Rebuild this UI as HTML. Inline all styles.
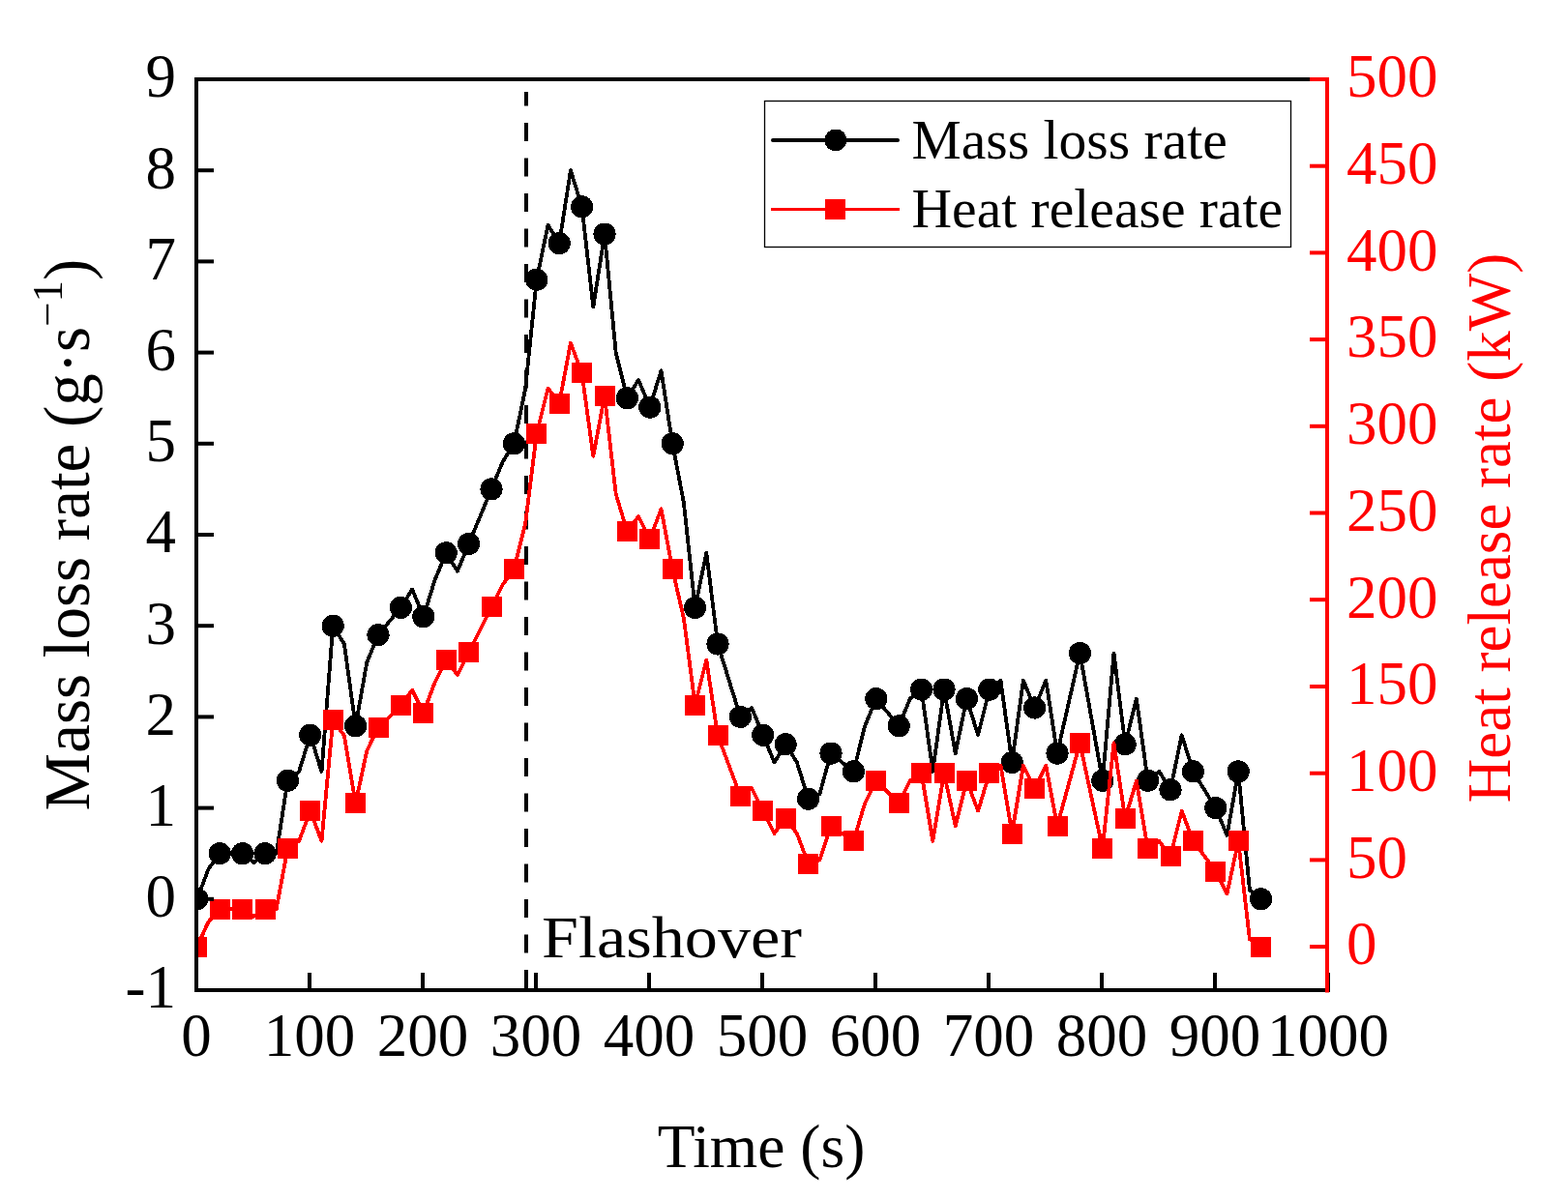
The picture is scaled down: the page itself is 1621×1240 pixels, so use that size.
<!DOCTYPE html><html><head><meta charset="utf-8"><title>Mass loss rate and heat release rate</title>
<style>html,body{margin:0;padding:0;background:#fff;}svg{display:block;}text{font-family:"Liberation Serif","Times New Roman",serif;}</style></head><body>
<svg width="1621" height="1240" viewBox="0 0 1621 1240">
<rect width="1621" height="1240" fill="#fff"/>
<defs><clipPath id="pc"><rect x="205" y="84" width="1165" height="938"/></clipPath></defs>
<line x1="544" y1="95" x2="544" y2="1022" stroke="#000" stroke-width="4" stroke-dasharray="19 17.5" stroke-dashoffset="4.4"/>
<g clip-path="url(#pc)" shape-rendering="crispEdges">
<polyline fill="none" stroke="#000" stroke-width="3.8" stroke-linejoin="round" points="203.8,929.8 215.5,898.7 227.2,882.7 238.9,882.7 250.6,882.7 262.3,892.1 274,882.7 285.7,882.7 297.4,807.3 309.1,797.9 320.8,760.2 332.5,797.9 344.2,647.2 355.9,666 367.6,750.8 379.3,684.9 391,656.6 402.7,642.5 414.4,628.4 426.1,609.5 437.8,637.8 449.5,600.1 461.2,571.8 472.9,590.7 484.6,562.4 496.3,534.2 508,505.9 519.7,477.6 531.4,458.8 543.1,402.3 554.8,289.2 566.5,232.7 578.2,251.6 589.9,176.2 601.6,213.9 613.3,317.5 625,242.1 636.7,364.6 648.4,411.7 660.1,392.9 671.8,421.1 683.5,383.4 695.2,458.8 706.9,520 718.6,628.4 730.3,571.8 742,666 753.7,703.7 765.4,741.4 777.1,732 788.8,760.2 800.5,788.5 812.2,769.7 823.9,788.5 835.6,826.2 847.3,821.5 859,779.1 870.7,788.5 882.4,797.9 894.1,750.8 905.8,722.6 917.5,736.7 929.2,750.8 940.9,722.6 952.6,713.1 964.3,797.9 976,713.1 987.7,779.1 999.4,722.6 1011.1,760.2 1022.8,713.1 1034.5,703.7 1046.2,788.5 1057.9,703.7 1069.6,732 1081.3,703.7 1093,779.1 1104.7,727.3 1116.4,675.5 1128.1,741.4 1139.8,807.3 1151.5,675.5 1163.2,769.7 1174.9,722.6 1186.6,807.3 1198.3,797.9 1210,816.8 1221.7,760.2 1233.4,797.9 1245.1,816.8 1256.8,835.6 1268.5,863.9 1280.2,797.9 1291.9,920.4 1303.6,929.8"/>
<circle cx="203.8" cy="929.8" r="11.6" fill="#000"/>
<circle cx="227.2" cy="882.7" r="11.6" fill="#000"/>
<circle cx="250.6" cy="882.7" r="11.6" fill="#000"/>
<circle cx="274" cy="882.7" r="11.6" fill="#000"/>
<circle cx="297.4" cy="807.3" r="11.6" fill="#000"/>
<circle cx="320.8" cy="760.2" r="11.6" fill="#000"/>
<circle cx="344.2" cy="647.2" r="11.6" fill="#000"/>
<circle cx="367.6" cy="750.8" r="11.6" fill="#000"/>
<circle cx="391" cy="656.6" r="11.6" fill="#000"/>
<circle cx="414.4" cy="628.4" r="11.6" fill="#000"/>
<circle cx="437.8" cy="637.8" r="11.6" fill="#000"/>
<circle cx="461.2" cy="571.8" r="11.6" fill="#000"/>
<circle cx="484.6" cy="562.4" r="11.6" fill="#000"/>
<circle cx="508" cy="505.9" r="11.6" fill="#000"/>
<circle cx="531.4" cy="458.8" r="11.6" fill="#000"/>
<circle cx="554.8" cy="289.2" r="11.6" fill="#000"/>
<circle cx="578.2" cy="251.6" r="11.6" fill="#000"/>
<circle cx="601.6" cy="213.9" r="11.6" fill="#000"/>
<circle cx="625" cy="242.1" r="11.6" fill="#000"/>
<circle cx="648.4" cy="411.7" r="11.6" fill="#000"/>
<circle cx="671.8" cy="421.1" r="11.6" fill="#000"/>
<circle cx="695.2" cy="458.8" r="11.6" fill="#000"/>
<circle cx="718.6" cy="628.4" r="11.6" fill="#000"/>
<circle cx="742" cy="666" r="11.6" fill="#000"/>
<circle cx="765.4" cy="741.4" r="11.6" fill="#000"/>
<circle cx="788.8" cy="760.2" r="11.6" fill="#000"/>
<circle cx="812.2" cy="769.7" r="11.6" fill="#000"/>
<circle cx="835.6" cy="826.2" r="11.6" fill="#000"/>
<circle cx="859" cy="779.1" r="11.6" fill="#000"/>
<circle cx="882.4" cy="797.9" r="11.6" fill="#000"/>
<circle cx="905.8" cy="722.6" r="11.6" fill="#000"/>
<circle cx="929.2" cy="750.8" r="11.6" fill="#000"/>
<circle cx="952.6" cy="713.1" r="11.6" fill="#000"/>
<circle cx="976" cy="713.1" r="11.6" fill="#000"/>
<circle cx="999.4" cy="722.6" r="11.6" fill="#000"/>
<circle cx="1022.8" cy="713.1" r="11.6" fill="#000"/>
<circle cx="1046.2" cy="788.5" r="11.6" fill="#000"/>
<circle cx="1069.6" cy="732" r="11.6" fill="#000"/>
<circle cx="1093" cy="779.1" r="11.6" fill="#000"/>
<circle cx="1116.4" cy="675.5" r="11.6" fill="#000"/>
<circle cx="1139.8" cy="807.3" r="11.6" fill="#000"/>
<circle cx="1163.2" cy="769.7" r="11.6" fill="#000"/>
<circle cx="1186.6" cy="807.3" r="11.6" fill="#000"/>
<circle cx="1210" cy="816.8" r="11.6" fill="#000"/>
<circle cx="1233.4" cy="797.9" r="11.6" fill="#000"/>
<circle cx="1256.8" cy="835.6" r="11.6" fill="#000"/>
<circle cx="1280.2" cy="797.9" r="11.6" fill="#000"/>
<circle cx="1303.6" cy="929.8" r="11.6" fill="#000"/>
<polyline fill="none" stroke="#f00" stroke-width="3.8" stroke-linejoin="round" points="203.8,979.1 215.5,953.3 227.2,940.1 238.9,940.1 250.6,940.1 262.3,947.9 274,940.1 285.7,940.1 297.4,877.6 309.1,869.8 320.8,838.6 332.5,869.8 344.2,744.9 355.9,760.6 367.6,830.8 379.3,776.2 391,752.7 402.7,741 414.4,729.3 426.1,713.7 437.8,737.1 449.5,705.9 461.2,682.5 472.9,698.1 484.6,674.7 496.3,651.3 508,627.9 519.7,604.5 531.4,588.8 543.1,542 554.8,448.3 566.5,401.5 578.2,417.1 589.9,354.7 601.6,385.9 613.3,471.8 625,409.3 636.7,510.8 648.4,549.8 660.1,534.2 671.8,557.6 683.5,526.4 695.2,588.8 706.9,639.6 718.6,729.3 730.3,682.5 742,760.6 753.7,791.8 765.4,823 777.1,815.2 788.8,838.6 800.5,862 812.2,846.4 823.9,862 835.6,893.2 847.3,889.3 859,854.2 870.7,862 882.4,869.8 894.1,830.8 905.8,807.4 917.5,819.1 929.2,830.8 940.9,807.4 952.6,799.6 964.3,869.8 976,799.6 987.7,854.2 999.4,807.4 1011.1,838.6 1022.8,799.6 1034.5,791.8 1046.2,862 1057.9,791.8 1069.6,815.2 1081.3,791.8 1093,854.2 1104.7,811.3 1116.4,768.4 1128.1,823 1139.8,877.6 1151.5,768.4 1163.2,846.4 1174.9,807.4 1186.6,877.6 1198.3,869.8 1210,885.4 1221.7,838.6 1233.4,869.8 1245.1,885.4 1256.8,901 1268.5,924.5 1280.2,869.8 1291.9,971.3 1303.6,979.1"/>
<rect x="193.3" y="968.6" width="21" height="21" fill="#f00"/>
<rect x="216.7" y="929.6" width="21" height="21" fill="#f00"/>
<rect x="240.1" y="929.6" width="21" height="21" fill="#f00"/>
<rect x="263.5" y="929.6" width="21" height="21" fill="#f00"/>
<rect x="286.9" y="867.1" width="21" height="21" fill="#f00"/>
<rect x="310.3" y="828.1" width="21" height="21" fill="#f00"/>
<rect x="333.7" y="734.4" width="21" height="21" fill="#f00"/>
<rect x="357.1" y="820.3" width="21" height="21" fill="#f00"/>
<rect x="380.5" y="742.2" width="21" height="21" fill="#f00"/>
<rect x="403.9" y="718.8" width="21" height="21" fill="#f00"/>
<rect x="427.3" y="726.6" width="21" height="21" fill="#f00"/>
<rect x="450.7" y="672" width="21" height="21" fill="#f00"/>
<rect x="474.1" y="664.2" width="21" height="21" fill="#f00"/>
<rect x="497.5" y="617.4" width="21" height="21" fill="#f00"/>
<rect x="520.9" y="578.3" width="21" height="21" fill="#f00"/>
<rect x="544.3" y="437.8" width="21" height="21" fill="#f00"/>
<rect x="567.7" y="406.6" width="21" height="21" fill="#f00"/>
<rect x="591.1" y="375.4" width="21" height="21" fill="#f00"/>
<rect x="614.5" y="398.8" width="21" height="21" fill="#f00"/>
<rect x="637.9" y="539.3" width="21" height="21" fill="#f00"/>
<rect x="661.3" y="547.1" width="21" height="21" fill="#f00"/>
<rect x="684.7" y="578.3" width="21" height="21" fill="#f00"/>
<rect x="708.1" y="718.8" width="21" height="21" fill="#f00"/>
<rect x="731.5" y="750.1" width="21" height="21" fill="#f00"/>
<rect x="754.9" y="812.5" width="21" height="21" fill="#f00"/>
<rect x="778.3" y="828.1" width="21" height="21" fill="#f00"/>
<rect x="801.7" y="835.9" width="21" height="21" fill="#f00"/>
<rect x="825.1" y="882.7" width="21" height="21" fill="#f00"/>
<rect x="848.5" y="843.7" width="21" height="21" fill="#f00"/>
<rect x="871.9" y="859.3" width="21" height="21" fill="#f00"/>
<rect x="895.3" y="796.9" width="21" height="21" fill="#f00"/>
<rect x="918.7" y="820.3" width="21" height="21" fill="#f00"/>
<rect x="942.1" y="789.1" width="21" height="21" fill="#f00"/>
<rect x="965.5" y="789.1" width="21" height="21" fill="#f00"/>
<rect x="988.9" y="796.9" width="21" height="21" fill="#f00"/>
<rect x="1012.3" y="789.1" width="21" height="21" fill="#f00"/>
<rect x="1035.7" y="851.5" width="21" height="21" fill="#f00"/>
<rect x="1059.1" y="804.7" width="21" height="21" fill="#f00"/>
<rect x="1082.5" y="843.7" width="21" height="21" fill="#f00"/>
<rect x="1105.9" y="757.9" width="21" height="21" fill="#f00"/>
<rect x="1129.3" y="867.1" width="21" height="21" fill="#f00"/>
<rect x="1152.7" y="835.9" width="21" height="21" fill="#f00"/>
<rect x="1176.1" y="867.1" width="21" height="21" fill="#f00"/>
<rect x="1199.5" y="874.9" width="21" height="21" fill="#f00"/>
<rect x="1222.9" y="859.3" width="21" height="21" fill="#f00"/>
<rect x="1246.3" y="890.5" width="21" height="21" fill="#f00"/>
<rect x="1269.7" y="859.3" width="21" height="21" fill="#f00"/>
<rect x="1293.1" y="968.6" width="21" height="21" fill="#f00"/>
</g>
<g stroke="#000" stroke-width="4" fill="none">
<line x1="201" y1="82" x2="1372" y2="82"/>
<line x1="201" y1="1024" x2="1375" y2="1024"/>
<line x1="203" y1="80" x2="203" y2="1026"/>
<line x1="203" y1="1024" x2="221" y2="1024"/>
<line x1="203" y1="929.8" x2="221" y2="929.8"/>
<line x1="203" y1="835.6" x2="221" y2="835.6"/>
<line x1="203" y1="741.4" x2="221" y2="741.4"/>
<line x1="203" y1="647.2" x2="221" y2="647.2"/>
<line x1="203" y1="553" x2="221" y2="553"/>
<line x1="203" y1="458.8" x2="221" y2="458.8"/>
<line x1="203" y1="364.6" x2="221" y2="364.6"/>
<line x1="203" y1="270.4" x2="221" y2="270.4"/>
<line x1="203" y1="176.2" x2="221" y2="176.2"/>
<line x1="203" y1="82" x2="221" y2="82"/>
<line x1="203" y1="1006" x2="203" y2="1024"/>
<line x1="320" y1="1006" x2="320" y2="1024"/>
<line x1="437" y1="1006" x2="437" y2="1024"/>
<line x1="554" y1="1006" x2="554" y2="1024"/>
<line x1="671" y1="1006" x2="671" y2="1024"/>
<line x1="788" y1="1006" x2="788" y2="1024"/>
<line x1="905" y1="1006" x2="905" y2="1024"/>
<line x1="1022" y1="1006" x2="1022" y2="1024"/>
<line x1="1139" y1="1006" x2="1139" y2="1024"/>
<line x1="1256" y1="1006" x2="1256" y2="1024"/>
<line x1="1373" y1="1006" x2="1373" y2="1024"/>
</g>
<g stroke="#f00" stroke-width="4" fill="none">
<line x1="1372" y1="80" x2="1372" y2="1026.5"/>
<line x1="1354" y1="979.1" x2="1372" y2="979.1"/>
<line x1="1354" y1="889.4" x2="1372" y2="889.4"/>
<line x1="1354" y1="799.7" x2="1372" y2="799.7"/>
<line x1="1354" y1="710" x2="1372" y2="710"/>
<line x1="1354" y1="620.2" x2="1372" y2="620.2"/>
<line x1="1354" y1="530.5" x2="1372" y2="530.5"/>
<line x1="1354" y1="440.8" x2="1372" y2="440.8"/>
<line x1="1354" y1="351.1" x2="1372" y2="351.1"/>
<line x1="1354" y1="261.4" x2="1372" y2="261.4"/>
<line x1="1354" y1="171.7" x2="1372" y2="171.7"/>
<line x1="1354" y1="82" x2="1372" y2="82"/>
</g>
<g font-size="63" fill="#000" text-anchor="end">
<text x="182" y="1042.3">-1</text>
<text x="182" y="948.1">0</text>
<text x="182" y="853.9">1</text>
<text x="182" y="759.7">2</text>
<text x="182" y="665.5">3</text>
<text x="182" y="571.3">4</text>
<text x="182" y="477.1">5</text>
<text x="182" y="382.9">6</text>
<text x="182" y="288.7">7</text>
<text x="182" y="194.5">8</text>
<text x="182" y="100.3">9</text>
</g>
<g font-size="63" fill="#000" text-anchor="middle">
<text x="203" y="1092">0</text>
<text x="320" y="1092">100</text>
<text x="437" y="1092">200</text>
<text x="554" y="1092">300</text>
<text x="671" y="1092">400</text>
<text x="788" y="1092">500</text>
<text x="905" y="1092">600</text>
<text x="1022" y="1092">700</text>
<text x="1139" y="1092">800</text>
<text x="1256" y="1092">900</text>
<text x="1373" y="1092">1000</text>
</g>
<g font-size="63" fill="#f00" text-anchor="start">
<text x="1392" y="997.4">0</text>
<text x="1392" y="907.7">50</text>
<text x="1392" y="818">100</text>
<text x="1392" y="728.3">150</text>
<text x="1392" y="638.5">200</text>
<text x="1392" y="548.8">250</text>
<text x="1392" y="459.1">300</text>
<text x="1392" y="369.4">350</text>
<text x="1392" y="279.7">400</text>
<text x="1392" y="190">450</text>
<text x="1392" y="100.3">500</text>
</g>
<text x="787" y="1207" font-size="63.5" text-anchor="middle" fill="#000">Time (s)</text>
<text transform="translate(91.5,553) rotate(-90)" font-size="67" text-anchor="middle" fill="#000">Mass loss rate (g·s<tspan font-size="45" dy="-27.6">−1</tspan><tspan dy="27.6">)</tspan></text>
<text transform="translate(1561,546) rotate(-90)" font-size="63" text-anchor="middle" fill="#f00">Heat release rate (kW)</text>
<text x="560" y="990" font-size="62" fill="#000" textLength="269" lengthAdjust="spacingAndGlyphs">Flashover</text>
<rect x="790.5" y="104.5" width="544" height="151" fill="#fff" stroke="#000" stroke-width="1.3"/>
<line x1="799" y1="145" x2="928" y2="145" stroke="#000" stroke-width="4" stroke-linecap="round"/>
<circle cx="864" cy="145" r="11.4" fill="#000" shape-rendering="crispEdges"/>
<line x1="797" y1="216.5" x2="930" y2="216.5" stroke="#f00" stroke-width="3.2"/>
<rect x="853" y="206" width="21" height="21" fill="#f00" shape-rendering="crispEdges"/>
<text x="942.5" y="164" font-size="57.6" fill="#000">Mass loss rate</text>
<text x="942.5" y="235" font-size="57.6" fill="#000">Heat release rate</text>
</svg></body></html>
